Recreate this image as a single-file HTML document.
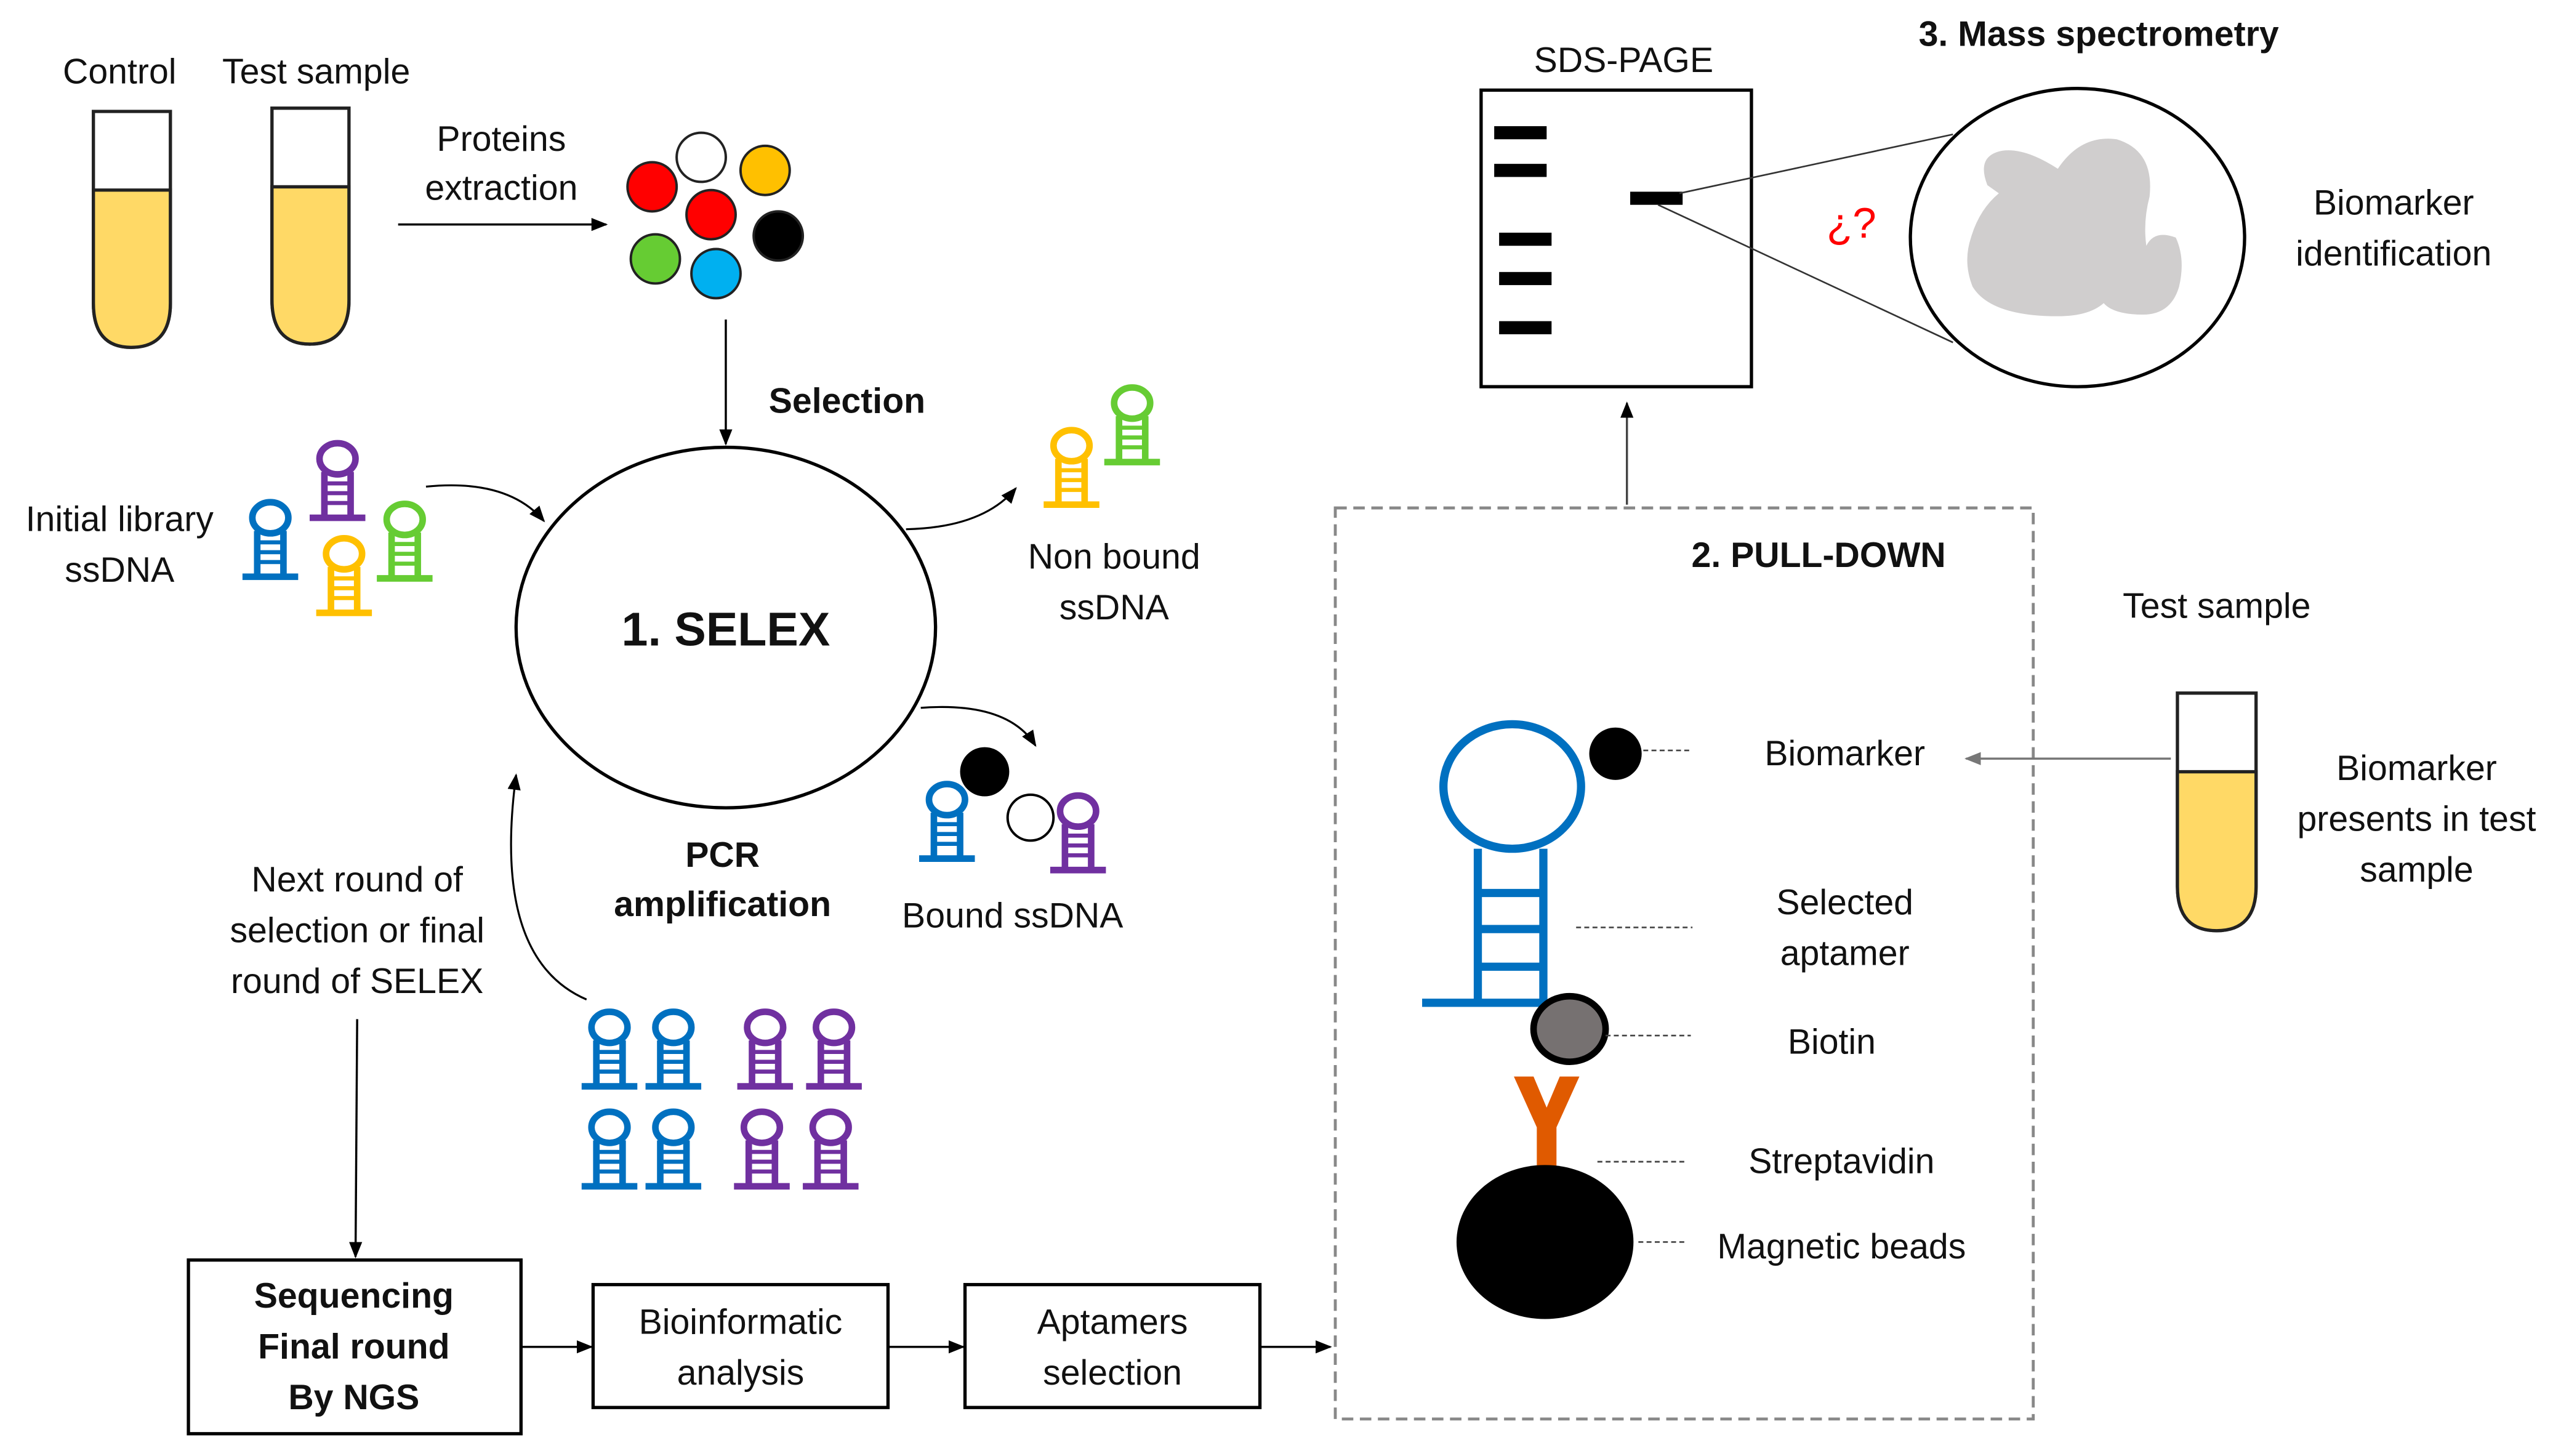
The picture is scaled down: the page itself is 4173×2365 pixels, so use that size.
<!DOCTYPE html>
<html><head><meta charset="utf-8"><style>
html,body{margin:0;padding:0;background:#fff;}
svg{display:block;}
text{font-family:"Liberation Sans",sans-serif;fill:#111;font-size:21.5px;text-anchor:middle;}
.b{font-weight:bold;}
</style></head><body>
<svg width="4173" height="2365" viewBox="0 0 1568 888.6" preserveAspectRatio="none" xmlns="http://www.w3.org/2000/svg">
<defs>
<marker id="ar" markerWidth="10" markerHeight="10" refX="9" refY="5" orient="auto" markerUnits="userSpaceOnUse"><path d="M0,1 L10,5 L0,9 Z" fill="#000"/></marker>
<marker id="ag" markerWidth="10" markerHeight="10" refX="9" refY="5" orient="auto" markerUnits="userSpaceOnUse"><path d="M0,1 L10,5 L0,9 Z" fill="#777"/></marker>
<symbol id="hp" overflow="visible">
<g fill="none" stroke="currentColor">
<ellipse cx="0" cy="0" rx="11" ry="9.5" stroke-width="4"/>
<line x1="-8" y1="8" x2="-8" y2="35" stroke-width="4"/>
<line x1="8" y1="8" x2="8" y2="35" stroke-width="4"/>
<line x1="-8" y1="15" x2="8" y2="15" stroke-width="2.5"/>
<line x1="-8" y1="21" x2="8" y2="21" stroke-width="2.5"/>
<line x1="-8" y1="27" x2="8" y2="27" stroke-width="2.5"/>
<line x1="-17" y1="36" x2="17" y2="36" stroke-width="4"/>
</g></symbol>
</defs>

<g stroke="#222" stroke-width="2">
<path d="M57,68 H104 V185 Q104,212 80,212 Q57,212 57,185 Z" fill="#fff"/>
<path d="M57,116 H104 V185 Q104,212 80,212 Q57,212 57,185 Z" fill="#ffd966"/>
<path d="M166,66 H213 V183 Q213,210 189,210 Q166,210 166,183 Z" fill="#fff"/>
<path d="M166,114 H213 V183 Q213,210 189,210 Q166,210 166,183 Z" fill="#ffd966"/>
<path d="M1329,423 H1377 V541 Q1377,568 1353,568 Q1329,568 1329,541 Z" fill="#fff"/>
<path d="M1329,471 H1377 V541 Q1377,568 1353,568 Q1329,568 1329,541 Z" fill="#ffd966"/>
</g>
<text x="73" y="51">Control</text>
<text x="193" y="51">Test sample</text>
<text x="306" y="92">Proteins</text>
<text x="306" y="122">extraction</text>
<line x1="243" y1="137" x2="370" y2="137" stroke="#000" stroke-width="1.3" marker-end="url(#ar)"/>

<g stroke="#222" stroke-width="1.5">
<circle cx="428" cy="96" r="15" fill="#fff"/>
<circle cx="398" cy="114" r="15" fill="#ff0000"/>
<circle cx="467" cy="104" r="15" fill="#ffc000"/>
<circle cx="434" cy="131" r="15" fill="#ff0000"/>
<circle cx="475" cy="144" r="15" fill="#000"/>
<circle cx="400" cy="158" r="15" fill="#66cc33"/>
<circle cx="437" cy="167" r="15" fill="#00b0f0"/>
</g>
<line x1="443" y1="195" x2="443" y2="271" stroke="#000" stroke-width="1.3" marker-end="url(#ar)"/>
<text x="517" y="252" class="b">Selection</text>

<ellipse cx="443" cy="383" rx="128" ry="110" fill="none" stroke="#000" stroke-width="2"/>
<text x="443" y="394" class="b" style="font-size:29px">1. SELEX</text>

<text x="73" y="324">Initial library</text>
<text x="73" y="355">ssDNA</text>
<use href="#hp" x="165" y="316" color="#0070c0"/>
<use href="#hp" x="206" y="280" color="#7030a0"/>
<use href="#hp" x="210" y="338" color="#ffc000"/>
<use href="#hp" x="247" y="317" color="#66cc33"/>
<path d="M260,297 Q310,292 332,318" fill="none" stroke="#000" stroke-width="1.2" marker-end="url(#ar)"/>

<path d="M553,323 Q600,322 620,298" fill="none" stroke="#000" stroke-width="1.2" marker-end="url(#ar)"/>
<use href="#hp" x="654" y="272" color="#ffc000"/>
<use href="#hp" x="691" y="246" color="#66cc33"/>
<text x="680" y="347">Non bound</text>
<text x="680" y="378">ssDNA</text>

<path d="M562,432 Q615,428 632,455" fill="none" stroke="#000" stroke-width="1.2" marker-end="url(#ar)"/>
<circle cx="601" cy="471" r="15" fill="#000"/>
<circle cx="629" cy="499" r="14" fill="#fff" stroke="#000" stroke-width="1.5"/>
<use href="#hp" x="578" y="488" color="#0070c0"/>
<use href="#hp" x="658" y="495" color="#7030a0"/>
<text x="618" y="566">Bound ssDNA</text>

<text x="441" y="529" class="b">PCR</text>
<text x="441" y="559" class="b">amplification</text>

<path d="M358,610 Q300,585 315,473" fill="none" stroke="#000" stroke-width="1.2" marker-end="url(#ar)"/>
<text x="218" y="544">Next round of</text>
<text x="218" y="575">selection or final</text>
<text x="218" y="606">round of SELEX</text>
<line x1="218" y1="622" x2="217" y2="767" stroke="#000" stroke-width="1.3" marker-end="url(#ar)"/>

<use href="#hp" x="372" y="627" color="#0070c0"/>
<use href="#hp" x="411" y="627" color="#0070c0"/>
<use href="#hp" x="372" y="688" color="#0070c0"/>
<use href="#hp" x="411" y="688" color="#0070c0"/>
<use href="#hp" x="467" y="627" color="#7030a0"/>
<use href="#hp" x="509" y="627" color="#7030a0"/>
<use href="#hp" x="465" y="688" color="#7030a0"/>
<use href="#hp" x="507" y="688" color="#7030a0"/>

<rect x="115" y="769" width="203" height="106" fill="none" stroke="#000" stroke-width="2"/>
<text x="216" y="798" class="b">Sequencing</text>
<text x="216" y="829" class="b">Final round</text>
<text x="216" y="860" class="b">By NGS</text>
<rect x="362" y="784" width="180" height="75" fill="none" stroke="#000" stroke-width="2"/>
<text x="452" y="814">Bioinformatic</text>
<text x="452" y="845">analysis</text>
<rect x="589" y="784" width="180" height="75" fill="none" stroke="#000" stroke-width="2"/>
<text x="679" y="814">Aptamers</text>
<text x="679" y="845">selection</text>
<g stroke="#000" stroke-width="1.3">
<line x1="318" y1="822" x2="361" y2="822" marker-end="url(#ar)"/>
<line x1="542" y1="822" x2="588" y2="822" marker-end="url(#ar)"/>
<line x1="769" y1="822" x2="812" y2="822" marker-end="url(#ar)"/>
</g>

<rect x="815" y="310" width="426" height="556" fill="none" stroke="#888" stroke-width="1.8" stroke-dasharray="7,4"/>
<text x="1110" y="346" class="b">2. PULL-DOWN</text>
<line x1="993" y1="308" x2="993" y2="246" stroke="#444" stroke-width="1.3" marker-end="url(#ar)"/>
<g fill="none" stroke="#0070c0" stroke-width="5">
<ellipse cx="923" cy="480" rx="42" ry="38"/>
<line x1="902" y1="518" x2="902" y2="612"/>
<line x1="942" y1="518" x2="942" y2="612"/>
<line x1="902" y1="545" x2="942" y2="545"/>
<line x1="902" y1="567" x2="942" y2="567"/>
<line x1="902" y1="590" x2="942" y2="590"/>
<line x1="868" y1="612" x2="944" y2="612"/>
</g>
<circle cx="986" cy="460" r="16" fill="#000"/>
<ellipse cx="958" cy="628" rx="22" ry="20" fill="#767171" stroke="#000" stroke-width="4"/>
<path d="M924,657 H936 L944,676 L952,657 H964 L950,688 V712 H938 V688 Z" fill="#e05a00"/>
<ellipse cx="943" cy="758" rx="54" ry="47" fill="#000"/>
<g stroke="#444" stroke-width="1" stroke-dasharray="3,2">
<line x1="1003" y1="458" x2="1032" y2="458"/>
<line x1="962" y1="566" x2="1033" y2="566"/>
<line x1="980" y1="632" x2="1032" y2="632"/>
<line x1="975" y1="709" x2="1028" y2="709"/>
<line x1="1000" y1="758" x2="1030" y2="758"/>
</g>
<text x="1126" y="467">Biomarker</text>
<text x="1126" y="558">Selected</text>
<text x="1126" y="589">aptamer</text>
<text x="1118" y="643">Biotin</text>
<text x="1124" y="716">Streptavidin</text>
<text x="1124" y="768">Magnetic beads</text>

<text x="1353" y="377">Test sample</text>
<line x1="1325" y1="463" x2="1200" y2="463" stroke="#777" stroke-width="1.3" marker-end="url(#ag)"/>
<text x="1475" y="476">Biomarker</text>
<text x="1475" y="507">presents in test</text>
<text x="1475" y="538">sample</text>

<text x="991" y="44">SDS-PAGE</text>
<rect x="904" y="55" width="165" height="181" fill="none" stroke="#000" stroke-width="2"/>
<g fill="#000">
<rect x="912" y="77" width="32" height="8"/>
<rect x="912" y="100" width="32" height="8"/>
<rect x="915" y="142" width="32" height="8"/>
<rect x="915" y="166" width="32" height="8"/>
<rect x="915" y="196" width="32" height="8"/>
<rect x="995" y="117" width="32" height="8"/>
</g>
<line x1="1025" y1="118" x2="1192" y2="82" stroke="#333" stroke-width="1"/>
<line x1="1012" y1="125" x2="1192" y2="209" stroke="#333" stroke-width="1"/>
<text x="1130" y="145" style="fill:#ff0000;font-size:26px">¿?</text>
<text x="1281" y="28" class="b">3. Mass spectrometry</text>
<ellipse cx="1268" cy="145" rx="102" ry="91" fill="#fff" stroke="#000" stroke-width="2"/>
<path d="M1213,113 Q1206,95 1222,92 Q1236,90 1256,103 Q1270,82 1292,85 Q1315,92 1312,120 Q1308,135 1310,150 Q1315,140 1328,145 Q1334,158 1330,175 Q1325,192 1308,192 Q1290,192 1284,185 Q1275,193 1256,193 Q1215,193 1204,175 Q1198,160 1203,145 Q1208,128 1220,118 Z" fill="#d0cece"/>
<text x="1461" y="131">Biomarker</text>
<text x="1461" y="162">identification</text>
</svg>
</body></html>
